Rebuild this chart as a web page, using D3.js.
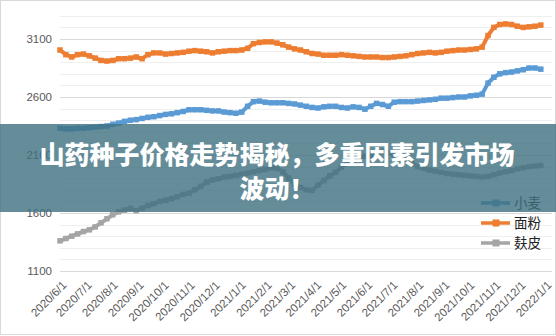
<!DOCTYPE html>
<html><head><meta charset="utf-8">
<script src="https://cdn.jsdelivr.net/npm/d3@7/dist/d3.min.js"></script>
<style>
html,body{margin:0;padding:0;background:#fff;}
svg{display:block;}
</style></head>
<body>
<svg id="chart" width="556" height="336"></svg>
<script>
// ---------- data ----------
const weekDates = [
"2020-06-01","2020-06-08","2020-06-15","2020-06-22","2020-06-29","2020-07-06","2020-07-13","2020-07-20","2020-07-27",
"2020-08-03","2020-08-10","2020-08-17","2020-08-24","2020-08-31","2020-09-07","2020-09-14","2020-09-21","2020-09-28",
"2020-10-05","2020-10-12","2020-10-19","2020-10-26","2020-11-02","2020-11-09","2020-11-16","2020-11-23","2020-11-30",
"2020-12-07","2020-12-14","2020-12-21","2020-12-28","2021-01-04","2021-01-11","2021-01-18","2021-01-25","2021-02-01",
"2021-02-08","2021-02-15","2021-02-22","2021-03-01","2021-03-08","2021-03-15","2021-03-22","2021-03-29","2021-04-05",
"2021-04-12","2021-04-19","2021-04-26","2021-05-03","2021-05-10","2021-05-17","2021-05-24","2021-05-31","2021-06-07",
"2021-06-14","2021-06-21","2021-06-28","2021-07-05","2021-07-12","2021-07-19","2021-07-26","2021-08-02","2021-08-09",
"2021-08-16","2021-08-23","2021-08-30","2021-09-06","2021-09-13","2021-09-20","2021-09-27","2021-10-04","2021-10-11",
"2021-10-18","2021-10-25","2021-11-01","2021-11-08","2021-11-15","2021-11-22","2021-11-29","2021-12-06","2021-12-13",
"2021-12-20","2021-12-27"];

const wheat = [2330,2325,2325,2330,2330,2335,2340,2345,2350,2365,2375,2390,2400,2405,2415,2425,2430,2440,2450,2455,
2465,2475,2490,2490,2490,2485,2480,2480,2470,2465,2460,2470,2520,2560,2565,2555,2550,2550,2550,2545,
2540,2530,2520,2510,2505,2515,2520,2520,2510,2505,2515,2510,2495,2520,2545,2535,2520,2555,2560,2560,
2560,2565,2570,2575,2580,2590,2590,2595,2600,2600,2610,2615,2625,2720,2770,2800,2810,2815,2825,2835,
2850,2850,2840];

const flour = [3005,2965,2945,2965,2970,2955,2935,2915,2910,2915,2930,2930,2935,2945,2930,2965,2980,2980,2970,2975,
2980,2985,2995,3000,2995,2990,2980,2990,2995,3000,3000,3005,3020,3060,3070,3075,3075,3065,3050,3030,
3015,3005,2990,2975,2970,2960,2960,2960,2965,2960,2955,2950,2945,2945,2945,2940,2940,2945,2950,2955,
2965,2975,2980,2985,2980,2985,2995,3000,3005,3005,3010,3015,3030,3130,3200,3225,3230,3225,3210,3200,
3205,3210,3220];

const bran = [1360,1380,1400,1420,1440,1455,1480,1515,1550,1585,1610,1625,1640,1620,1640,1665,1680,1700,1710,1725,
1740,1760,1770,1800,1830,1865,1885,1895,1910,1915,1925,1935,1945,1955,1965,1975,1990,1985,1955,1900,
1850,1820,1800,1795,1840,1880,1920,1950,1995,2030,2055,2075,2090,2100,2120,2130,2120,2100,2075,2050,
2030,2000,1985,1970,1960,1950,1940,1935,1930,1925,1920,1915,1910,1915,1930,1945,1955,1965,1980,1990,
2000,2005,2010];

const seriesNames = ["小麦","面粉","麸皮"];
const seriesColors = ["#5b9bd5","#ed7d31","#a5a5a5"];
const monthLabels = ["2020/6/1","2020/7/1","2020/8/1","2020/9/1","2020/10/1","2020/11/1","2020/12/1",
"2021/1/1","2021/2/1","2021/3/1","2021/4/1","2021/5/1","2021/6/1","2021/7/1","2021/8/1","2021/9/1",
"2021/10/1","2021/11/1","2021/12/1","2022/1/1"];
const yMajorTicks = [1100,1600,2100,2600,3100];
const yMinorTicks = d3.range(1100, 3301, 100);
const titleLines = ["山药种子价格走势揭秘，多重因素引发市场","波动！"];

// ---------- setup ----------
const W = 556, H = 336;
const svg = d3.select("#chart");
const parse = d3.timeParse("%Y-%m-%d");
const parseLbl = d3.timeParse("%Y/%m/%d");
const dates = weekDates.map(parse);

const x = d3.scaleTime()
  .domain([parseLbl("2020/6/1"), parseLbl("2022/1/1")])
  .range([60, 545]);
const y = d3.scaleLinear().domain([1100, 3100]).range([271, 39]);

// frame
svg.append("rect").attr("x",0.5).attr("y",0.5).attr("width",W-1).attr("height",H-2)
  .attr("fill","#fff").attr("stroke","#d9d9d9");

// minor grid
svg.append("g").selectAll("line").data(yMinorTicks.filter(v=>!yMajorTicks.includes(v))).join("line")
  .attr("x1",60).attr("x2",552)
  .attr("y1",d=>Math.round(y(d))+0.5).attr("y2",d=>Math.round(y(d))+0.5)
  .attr("stroke","#efefef").attr("stroke-width",1);

// major grid via axis
const yAxis = d3.axisLeft(y).tickValues(yMajorTicks).tickSize(-(552-60)).tickPadding(8).tickFormat(d3.format("d"));
const gy = svg.append("g").attr("transform","translate(60,0)").call(yAxis);
gy.select(".domain").remove();
gy.selectAll(".tick line").attr("stroke","#d9d9d9");
gy.selectAll(".tick text").attr("fill","#595959")
  .style("font-family","'Liberation Sans', Arial, sans-serif").style("font-size","11.5px");

// x axis labels
const xAxis = d3.axisBottom(x).tickValues(monthLabels.map(parseLbl)).tickSize(0)
  .tickFormat((d,i)=>monthLabels[i]);
const gx = svg.append("g").attr("transform","translate(0,271)").call(xAxis);
gx.select(".domain").remove();
gx.selectAll(".tick text")
  .attr("fill","#595959")
  .style("font-family","'Liberation Sans', Arial, sans-serif").style("font-size","11.5px")
  .attr("text-anchor","end")
  .attr("x",0).attr("y",0).attr("dy","0.35em")
  .attr("transform","translate(4,12) rotate(-45)");

// series
const allSeries = [wheat, flour, bran];
const line = d3.line().x((d,i)=>x(dates[i])).y(d=>y(d));
const gSeries = svg.append("g");
[2,0,1].forEach(k=>{
  const vals = allSeries[k];
  gSeries.append("path").datum(vals).attr("d",line)
    .attr("fill","none").attr("stroke",seriesColors[k]).attr("stroke-width",4)
    .attr("stroke-linejoin","round");
  gSeries.append("g").selectAll("rect").data(vals).join("rect")
    .attr("x",(d,i)=>x(dates[i])-2.75).attr("y",d=>y(d)-2.75)
    .attr("width",5.5).attr("height",5.5).attr("fill",seriesColors[k]);
});

// legend
const lg = svg.append("g");
seriesNames.forEach((n,i)=>{
  const yy = 203 + i*20;
  lg.append("line").attr("x1",481).attr("x2",510).attr("y1",yy).attr("y2",yy)
    .attr("stroke",seriesColors[i]).attr("stroke-width",3.5);
  lg.append("rect").attr("x",492.5).attr("y",yy-3.5).attr("width",7).attr("height",7)
    .attr("fill",seriesColors[i]);
  lg.append("text").attr("x",514).attr("y",yy).attr("dy","0.36em")
    .attr("fill","#222").style("font-family","'Noto Sans CJK SC', sans-serif")
    .style("font-size","13.5px").text(n);
});

// banner overlay
svg.append("rect").attr("x",0).attr("y",124).attr("width",W).attr("height",88)
  .attr("fill","#3d7080").attr("opacity",0.8);
const tt = svg.append("text").attr("text-anchor","middle").attr("fill","#fff")
  .style("font-family","'Noto Sans CJK SC', sans-serif").style("font-weight","900")
  .style("font-size","25px");
titleLines.forEach((t,i)=>{
  tt.append("tspan").attr("x",277).attr("y",164 + i*34).text(t);
});
</script>
</body></html>
